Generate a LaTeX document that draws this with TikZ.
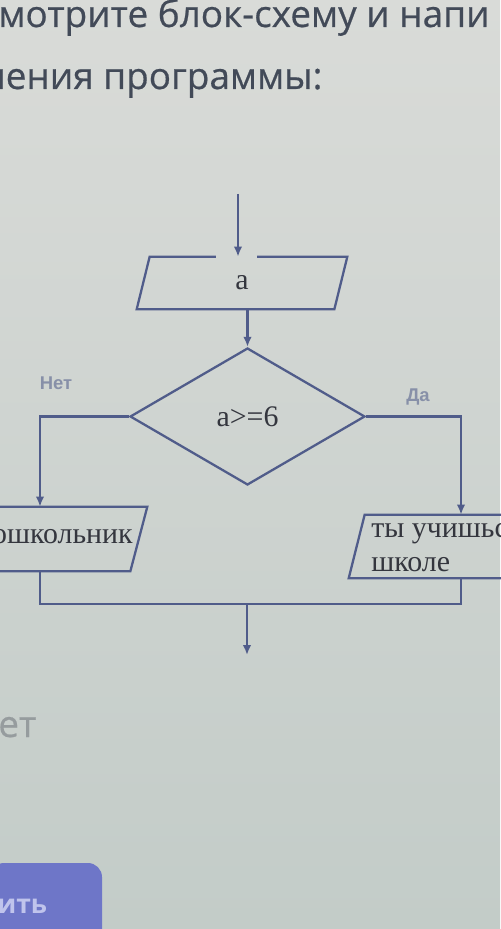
\documentclass[tikz,border=0pt]{standalone}
\usepackage{fontspec}
\setmainfont{Liberation Serif}
\setsansfont{Open Sans}
\newfontfamily\labelfont{Liberation Sans}
\newfontfamily\qfont[FakeBold=0.5]{Open Sans}
\usetikzlibrary{arrows.meta,shapes.geometric}
\definecolor{bgtop}{RGB}{217,219,216}
\definecolor{bgbot}{RGB}{195,204,200}
\definecolor{flow}{RGB}{80,92,138}
\definecolor{ink}{RGB}{52,54,62}
\definecolor{qtext}{RGB}{66,74,88}
\definecolor{faint}{RGB}{135,144,168}
\definecolor{answer}{RGB}{150,156,158}
\definecolor{btnblue}{RGB}{110,118,200}
\definecolor{btntext}{RGB}{192,196,236}
\newcommand{\ioframe}[2]{\draw[flowline] ([xshift=#2]#1.north west) -- ([xshift=#2]#1.north east) -- ([xshift=-#2]#1.south east) -- ([xshift=-#2]#1.south west) -- cycle;}
\begin{document}
\begin{tikzpicture}[x=0.02cm,y=-0.02cm,>={Latex[length=2mm,width=1.7mm]},font=\fontsize{17}{19.5}\selectfont]
\tikzstyle{flowline}=[draw=flow,line width=1.3pt]
\tikzstyle{arr}=[flowline,->]
\tikzstyle{iobox}=[rectangle,inner sep=0pt,text=ink]
\tikzstyle{question}=[font=\qfont\fontsize{21}{25}\selectfont,text=qtext,inner sep=0pt]
\tikzstyle{branch}=[font=\labelfont\bfseries\fontsize{10.5}{12}\selectfont,text=faint,inner sep=0pt]
\tikzstyle{boxtext}=[text=ink,inner sep=0pt]
\useasboundingbox (0,0) rectangle (500,929);
\shade[top color=bgtop,bottom color=bgbot] (0,0) rectangle (500,929);
\node[question,anchor=base west] (q1) at (-2,27) {мотрите блок-схему и напи};
\node[question,anchor=base west] (q2) at (-18,89) {нения программы:};
\node[iobox,minimum width=3.94cm,minimum height=1.04cm] (inp) at (242,283) {a};
\node[flowline,diamond,inner sep=0pt,minimum width=4.7cm,minimum height=2.74cm,text=ink] (cond) at (247.5,416.5) {a>=6};
\node[iobox,minimum width=4.28cm,minimum height=1.28cm] (dosh) at (31.5,539) {};
\node[boxtext,anchor=base east] (doshtxt) at (133,543) {ошкольник};
\node[iobox,minimum width=3.84cm,minimum height=1.26cm] (school) at (453,546.5) {};
\node[boxtext,anchor=north west,align=left] (schooltxt) at (371,523) {ты учишьс\\школе};
\ioframe{inp}{0.13cm}
\ioframe{dosh}{0.17cm}
\ioframe{school}{0.16cm}
\node[branch] (no) at (56,383) {Нет};
\node[branch] (yes) at (418,397) {Да};
\coordinate (st) at (238,194);
\coordinate (jn) at (247,604);
\coordinate (fin) at (247,655);
\fill[bgtop!72!bgbot] (216,253) rectangle (257,261);
\draw[arr] (st) -- (st |- inp.north);
\draw[arr] (inp.south -| cond.north) -- (cond.north);
\draw[arr] (cond.west) -| ([xshift=0.17cm]dosh.north);
\draw[arr] (cond.east) -| ([xshift=0.16cm]school.north);
\draw[flowline] ([xshift=0.17cm]dosh.south) |- (jn) -| ([xshift=0.16cm]school.south);
\draw[arr] (jn) -- (fin);
\node[question,text=answer,anchor=base west] (ans) at (-2,737) {ет};
\fill[btnblue,rounded corners=8] (-10,863) rectangle (102,945);
\node[question,font=\sffamily\bfseries\fontsize{15}{18}\selectfont,text=btntext,anchor=base west] (send) at (-3,913) {ить};
\end{tikzpicture}
\end{document}
